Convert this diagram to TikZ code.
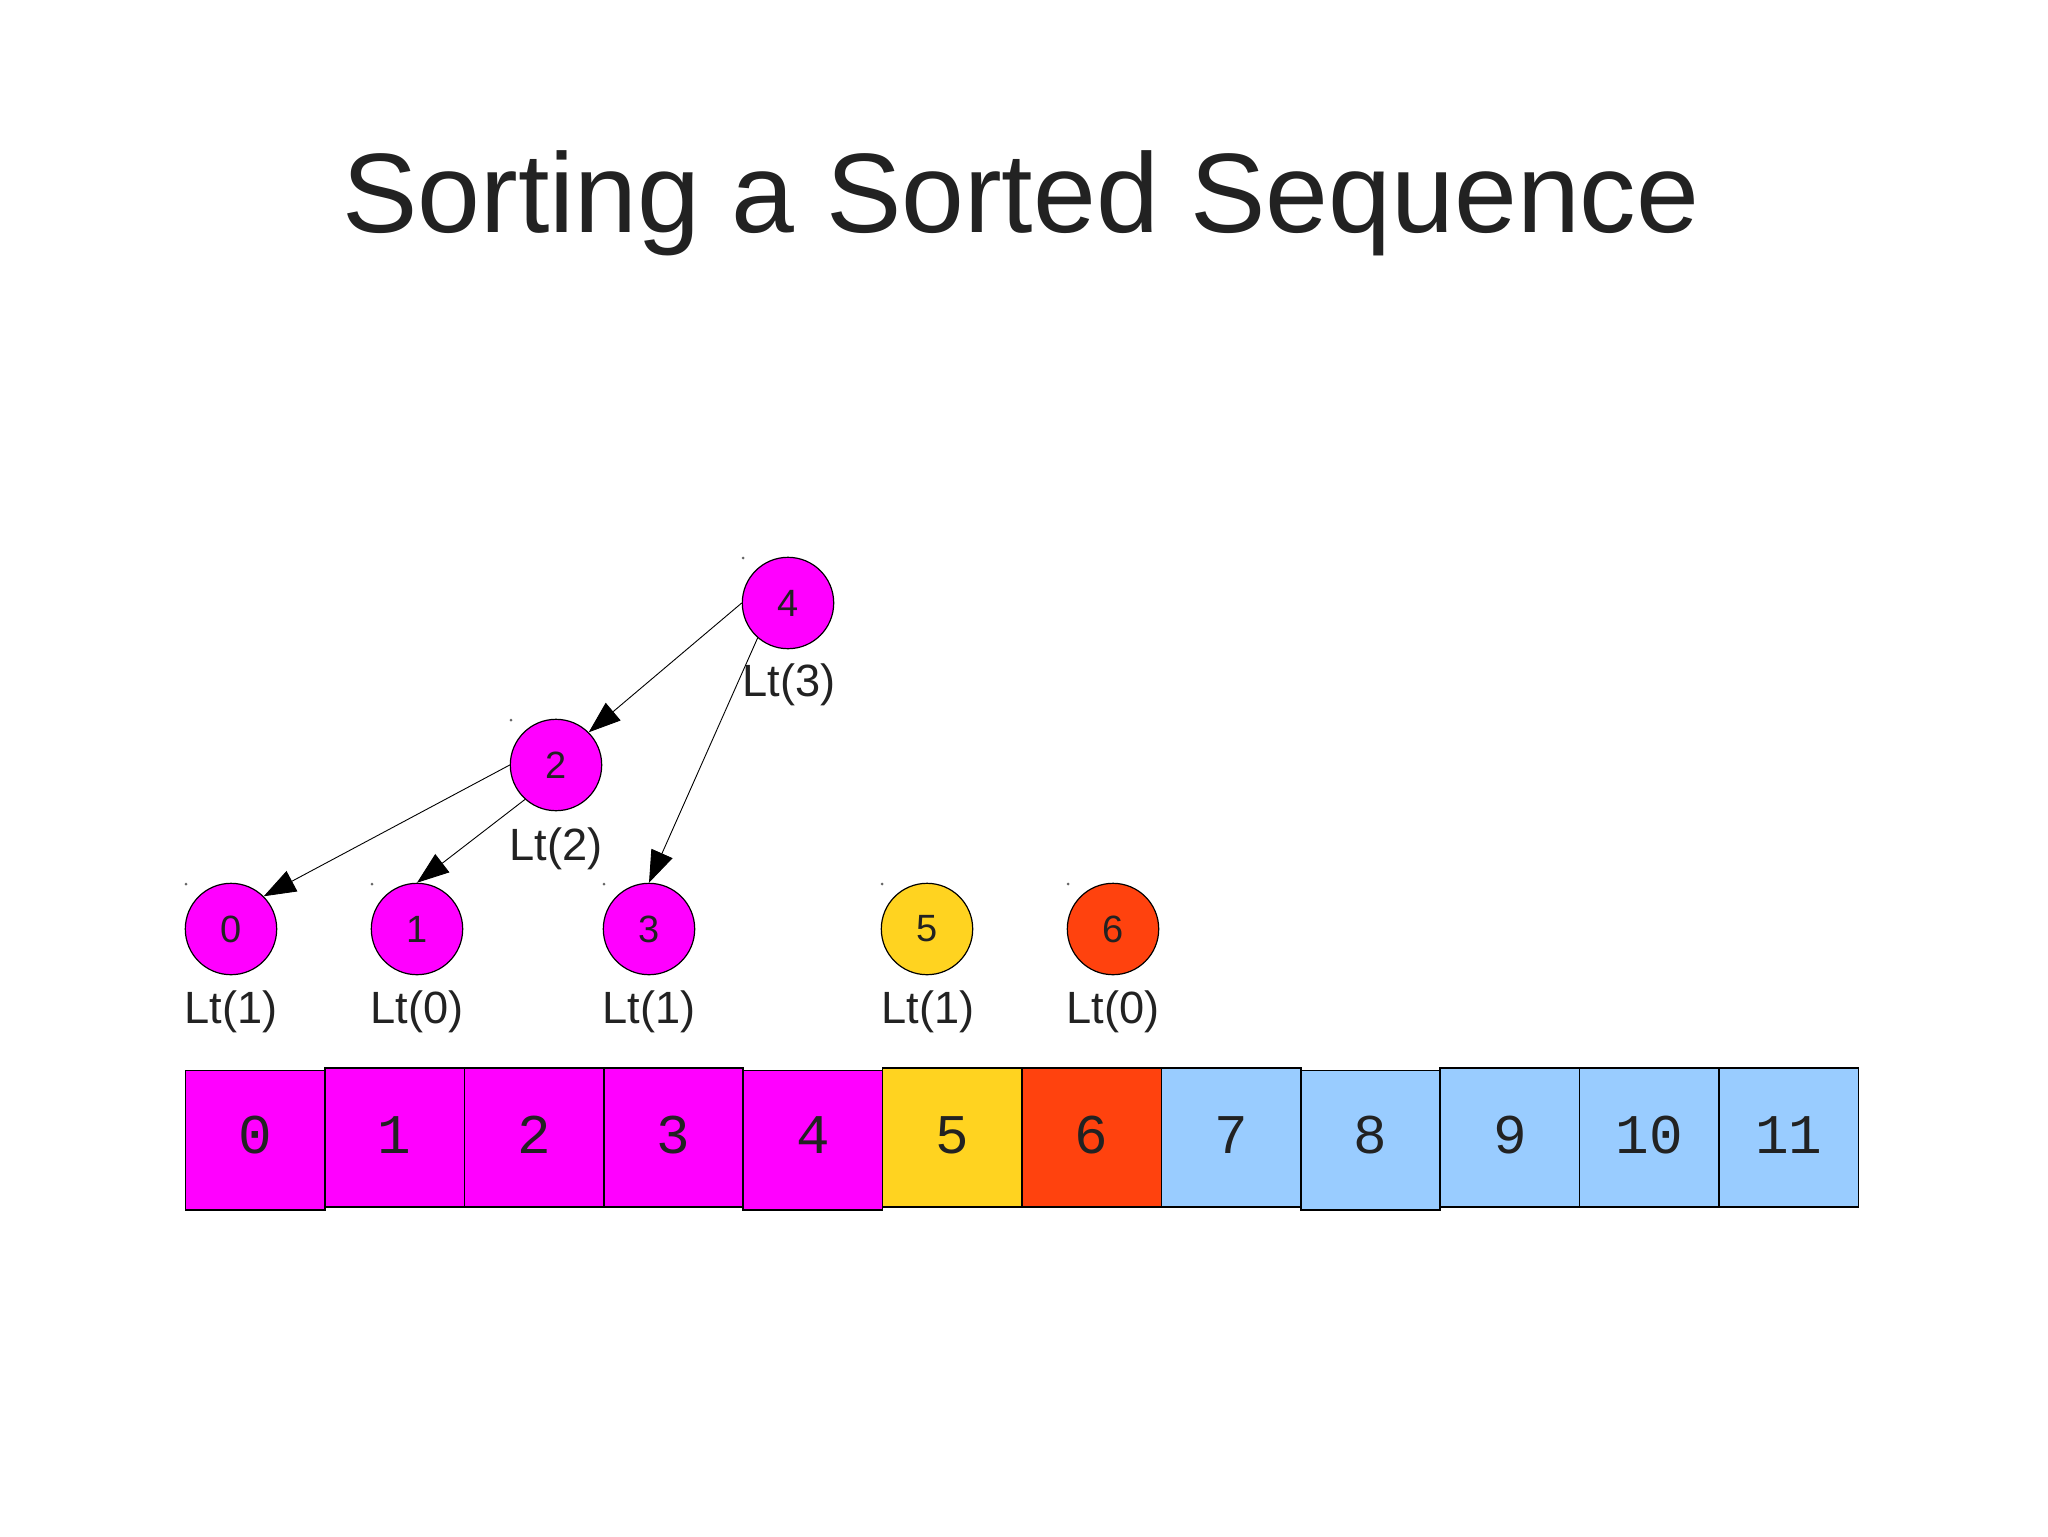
\documentclass[tikz,border=0pt]{standalone}
\usepackage{fontspec}
\setmainfont{Liberation Sans}
\newfontfamily\cellfont{Liberation Mono}
\usetikzlibrary{arrows.meta}
\definecolor{mag}{HTML}{FF00FF}
\definecolor{gold}{HTML}{FFD320}
\definecolor{redor}{HTML}{FF420E}
\definecolor{lblue}{HTML}{99CCFF}
\definecolor{ink}{HTML}{222222}
\tikzset{
  heapnode/.style={circle,draw=black,line width=0.6pt,minimum size=45.7pt,inner sep=0pt,font=\fontsize{19}{19}\selectfont,text=ink},
  ltlabel/.style={font=\fontsize{22.6}{24}\selectfont,text=ink,inner sep=0pt},
  cellbox/.style={draw=black,line width=0.8pt,minimum width=69.7pt,minimum height=69.7pt,inner sep=0pt},
  celltext/.style={font=\cellfont\fontsize{28}{28}\selectfont,text=ink,inner sep=0pt},
  treearrow/.style={draw=black,line width=0.45pt,-{Triangle[length=16pt,width=11.5pt]}},
  cornerdot/.style={fill=black!60,circle,inner sep=0pt,minimum size=1.5pt}
}
\begin{document}
\begin{tikzpicture}[x=0.5pt,y=-0.5pt]
\useasboundingbox (0,0) rectangle (2048,1536);
\fill[white] (0,0) rectangle (2048,1536);
% title
\node[anchor=base,font=\fontsize{56.5}{60}\selectfont,text=ink,inner sep=0pt] (title) at (1021,232) {Sorting a Sorted Sequence};
% heap nodes
\node[heapnode,fill=mag] (n4) at (788,603) {4};
\node[heapnode,fill=mag] (n2) at (556,765) {2};
\node[heapnode,fill=mag] (n0) at (231,929) {0};
\node[heapnode,fill=mag] (n1) at (417,929) {1};
\node[heapnode,fill=mag] (n3) at (649,929) {3};
\node[heapnode,fill=gold] (n5) at (927,929) {5};
\node[heapnode,fill=redor] (n6) at (1113,929) {6};
% corner dots
\foreach \c/\x/\y in {d4/788/603,d2/556/765,d0/231/929,d1/417/929,d3/649/929,d5/927/929,d6/1113/929}{
  \node[cornerdot] (\c) at (\x-45,\y-45) {};
}
% labels
\node[ltlabel] (l4) at (789,685) {Lt(3)};
\node[ltlabel] (l2) at (556,849) {Lt(2)};
\node[ltlabel] (l0) at (231,1012) {Lt(1)};
\node[ltlabel] (l1) at (417,1012) {Lt(0)};
\node[ltlabel] (l3) at (649,1012) {Lt(1)};
\node[ltlabel] (l5) at (928,1012) {Lt(1)};
\node[ltlabel] (l6) at (1113,1012) {Lt(0)};
% arrows
\draw[treearrow] (n4.west) -- (n2.north east);
\draw[treearrow] (n4.229) -- (n3.north);
\draw[treearrow] (n2.west) -- (n0.north east);
\draw[treearrow] (n2.228) -- (n1.north);
% array
\foreach \i/\col/\dy in {0/mag/2.5,1/mag/0,2/mag/0,3/mag/0,4/mag/2.5,5/gold/0,6/redor/0,7/lblue/0,8/lblue/2.5,9/lblue/0,10/lblue/0,11/lblue/0}{
  \node[cellbox,fill=\col] (c\i) at (255.2+139.4*\i,1137.5+\dy) {};
  \node[celltext] (t\i) at (255.2+139.4*\i,1135) {\i};
}
\end{tikzpicture}
\end{document}
